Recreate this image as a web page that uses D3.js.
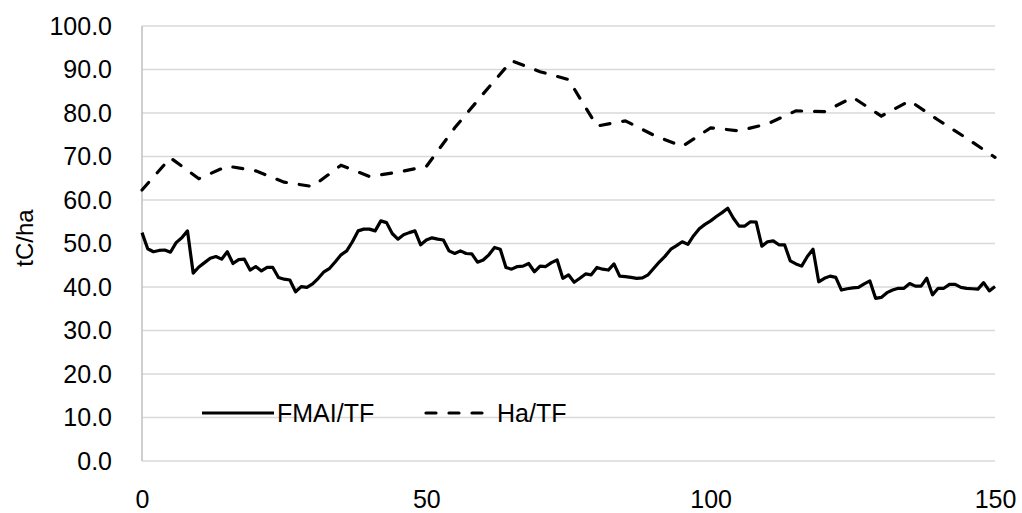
<!DOCTYPE html>
<html>
<head>
<meta charset="utf-8">
<script src="https://cdn.jsdelivr.net/npm/d3@7"></script>
<style>
  body { margin: 0; background: #fff; }
  text { font-family: "Liberation Sans", Arial, sans-serif; fill: #000; }
</style>
</head>
<body>
<svg id="chart"></svg>
<script>
// FMAI/TF, one value per step 0..150
const fmaiValues = [
  52.5, 48.8, 48.1, 48.4, 48.5, 48.0, 50.2, 51.3, 52.9, 43.2,
  44.6, 45.6, 46.6, 47.0, 46.4, 48.1, 45.4, 46.3, 46.4, 43.9,
  44.7, 43.7, 44.5, 44.5, 42.2, 41.8, 41.6, 38.9, 40.1, 39.9,
  40.7, 42.0, 43.5, 44.3, 45.8, 47.4, 48.3, 50.4, 52.9, 53.3,
  53.3, 52.9, 55.2, 54.8, 52.3, 51.0, 52.0, 52.5, 52.9, 49.7,
  50.8, 51.3, 51.0, 50.8, 48.3, 47.7, 48.3, 47.7, 47.6, 45.7,
  46.2, 47.4, 49.1, 48.7, 44.5, 44.1, 44.7, 44.8, 45.4, 43.5,
  44.8, 44.7, 45.6, 46.2, 42.0, 42.8, 41.1, 42.0, 43.0, 42.8,
  44.5, 44.1, 43.9, 45.3, 42.5, 42.4, 42.2, 42.0, 42.1, 42.8,
  44.3, 45.8, 47.1, 48.7, 49.5, 50.4, 49.8, 51.8, 53.4, 54.4,
  55.2, 56.2, 57.1, 58.1, 55.8, 54.0, 54.0, 55.0, 54.9, 49.4,
  50.4, 50.6, 49.7, 49.7, 46.0, 45.3, 44.8, 47.0, 48.7, 41.2,
  42.0, 42.5, 42.2, 39.3, 39.6, 39.8, 39.9, 40.7, 41.4, 37.4,
  37.6, 38.7, 39.3, 39.7, 39.7, 40.8, 40.2, 40.2, 42.0, 38.2,
  39.7, 39.7, 40.6, 40.6, 39.9, 39.7, 39.6, 39.5, 41.0, 39.1,
  40.1
];

// Ha/TF, every 5 steps
const haSteps = [0, 5, 10, 15, 20, 25, 30, 35, 40, 45, 50, 55, 60, 65, 70, 75,
  80, 85, 90, 95, 100, 105, 110, 115, 120, 125, 130, 135, 140, 145, 150];
const haValues = [62.3, 69.7, 64.9, 67.8, 66.7, 64.1, 63.1, 68.0, 65.4, 66.4, 67.7,
  76.6, 84.4, 92.0, 89.5, 87.7, 77.0, 78.2, 74.9, 72.3, 76.6, 75.9, 77.5, 80.5,
  80.3, 83.6, 79.3, 82.8, 78.4, 74.2, 69.8];

const yTicks = [0, 10, 20, 30, 40, 50, 60, 70, 80, 90, 100];
const xTicks = [0, 50, 100, 150];

const W = 1022, H = 513;
const margin = { top: 26, right: 27, bottom: 52, left: 142 },
  width = W - margin.left - margin.right,
  height = H - margin.top - margin.bottom;
const fontSize = "25px";

const svg = d3.select("#chart").attr("width", W).attr("height", H);
const g = svg.append("g").attr("transform", `translate(${margin.left},${margin.top})`);

const x = d3.scaleLinear().domain([0, 150]).range([0, width]);
const y = d3.scaleLinear().domain([0, 100]).range([height, 0]);

// gridlines
g.selectAll(".grid")
  .data(yTicks)
  .enter()
  .append("line")
  .attr("x1", 0)
  .attr("x2", width)
  .attr("y1", (d) => y(d))
  .attr("y2", (d) => y(d))
  .attr("stroke", "#d9d9d9")
  .attr("stroke-width", 1.5);

// left axis line
g.append("line")
  .attr("x1", 0).attr("x2", 0)
  .attr("y1", 0).attr("y2", height)
  .attr("stroke", "#bfbfbf")
  .attr("stroke-width", 1.5);

// y axis labels
const yAxis = g.append("g")
  .call(d3.axisLeft(y).tickValues(yTicks).tickSize(0).tickPadding(30).tickFormat(d3.format(".1f")));
yAxis.select(".domain").remove();
yAxis.selectAll("text").style("font-size", fontSize).style("font-family", "Liberation Sans, Arial, sans-serif");

// x axis labels
const xAxis = g.append("g")
  .attr("transform", `translate(0,${height})`)
  .call(d3.axisBottom(x).tickValues(xTicks).tickSize(0).tickPadding(29).tickFormat(d3.format("d")));
xAxis.select(".domain").remove();
xAxis.selectAll("text").style("font-size", fontSize).style("font-family", "Liberation Sans, Arial, sans-serif");

// y axis title
svg.append("text")
  .attr("transform", `translate(33,238) rotate(-90)`)
  .attr("text-anchor", "middle")
  .style("font-size", "24px")
  .text("tC/ha");

const line = d3.line().x((d) => x(d[0])).y((d) => y(d[1]));

const haData = haSteps.map((s, i) => [s, haValues[i]]);
const fmaiData = fmaiValues.map((v, i) => [i, v]);

g.append("path")
  .datum(haData)
  .attr("fill", "none")
  .attr("stroke", "#000")
  .attr("stroke-width", 3.2)
  .attr("stroke-linecap", "round")
  .attr("stroke-dasharray", "10,13")
  .attr("d", line);

g.append("path")
  .datum(fmaiData)
  .attr("fill", "none")
  .attr("stroke", "#000")
  .attr("stroke-width", 3.2)
  .attr("stroke-linejoin", "round")
  .attr("d", line);

// legend
const legendItems = [
  { name: "FMAI/TF", dash: null, x0: 202, x1: 274, tx: 277 },
  { name: "Ha/TF", dash: "10,13", x0: 426, x1: 493, tx: 497 }
];
const legY = 413;
const legend = svg.selectAll(".legend")
  .data(legendItems)
  .enter()
  .append("g")
  .attr("class", "legend");

legend.append("line")
  .attr("x1", (d) => d.x0)
  .attr("x2", (d) => d.x1)
  .attr("y1", legY)
  .attr("y2", legY)
  .attr("stroke", "#000")
  .attr("stroke-width", 3.2)
  .attr("stroke-linecap", (d) => (d.dash ? "round" : "butt"))
  .attr("stroke-dasharray", (d) => d.dash);

legend.append("text")
  .attr("x", (d) => d.tx)
  .attr("y", legY)
  .attr("dy", "0.35em")
  .style("font-size", fontSize)
  .text((d) => d.name);
</script>
</body>
</html>
